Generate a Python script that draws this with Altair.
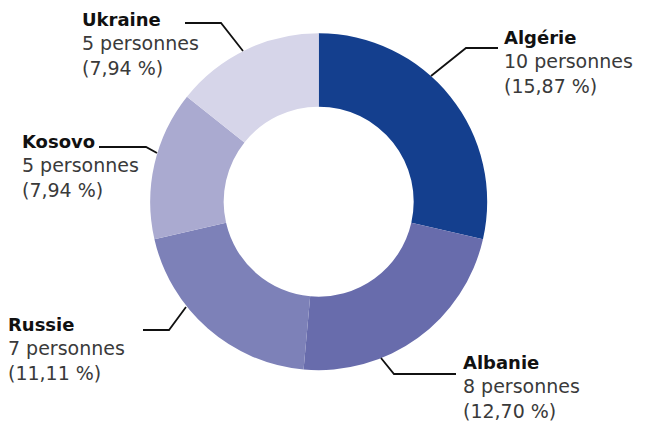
import altair as alt
import pandas as pd

# ---- data ----
countries = ["Algérie", "Albanie", "Russie", "Kosovo", "Ukraine"]
persons = [10, 8, 7, 5, 5]
percents = ["15,87", "12,70", "11,11", "7,94", "7,94"]
colors = ["#143F8E", "#686CAC", "#7D81B8", "#AAAAD0", "#D6D5E9"]

# ---- label layout (page pixels; offsets applied below) ----
label_x = [502, 461, 6, 20, 80]
label_y = [44, 369, 331, 148, 26]
line_gap = 24.5
leaders = [
    [(428, 76), (463, 48), (495, 48)],
    [(378, 358), (391, 374), (453, 374)],
    [(183, 307), (166, 330), (140, 330)],
    [(154, 153), (143, 147), (96, 147)],
    [(240, 51), (218, 23), (182, 23)],
]
OX, OY = 12, 8
TX = 13

df = pd.DataFrame({"pays": countries, "n": persons, "idx": list(range(len(countries)))})

rows = []
for i, c in enumerate(countries):
    lines = [(c, "bold"), (f"{persons[i]} personnes", "normal"), (f"({percents[i]} %)", "normal")]
    for j, (t, w) in enumerate(lines):
        rows.append({"t": t, "w": w, "x": label_x[i] - TX, "y": label_y[i] + j * line_gap - OY})
tdf = pd.DataFrame(rows)

lrows = []
for i, pts in enumerate(leaders):
    for j, (x, y) in enumerate(pts):
        lrows.append({"pays": countries[i], "o": j, "x": x - OX, "y": y - OY})
ldf = pd.DataFrame(lrows)

arc = alt.Chart(df).mark_arc(innerRadius=95, outerRadius=168.5).encode(
    theta=alt.Theta("n:Q", stack=True),
    order=alt.Order("idx:Q"),
    color=alt.Color("pays:N", scale=alt.Scale(domain=countries, range=colors), legend=None),
)

lead = alt.Chart(ldf).mark_line(color="#111111", strokeWidth=1.8).encode(
    x=alt.X("x:Q", scale=None, axis=None),
    y=alt.Y("y:Q", scale=None, axis=None),
    detail="pays:N",
    order="o:Q",
)

bold = alt.Chart(tdf[tdf.w == "bold"]).mark_text(
    align="left", baseline="alphabetic", font="DejaVu Sans", fontSize=18, fontWeight="bold", color="#111111"
).encode(x=alt.X("x:Q", scale=None), y=alt.Y("y:Q", scale=None), text="t:N")

normal = alt.Chart(tdf[tdf.w == "normal"]).mark_text(
    align="left", baseline="alphabetic", font="DejaVu Sans", fontSize=19, color="#3a3a3a"
).encode(x=alt.X("x:Q", scale=None), y=alt.Y("y:Q", scale=None), text="t:N")

chart = alt.layer(arc, lead, bold, normal).properties(
    width=607.4, height=387.4, padding=0
).configure_view(stroke=None)

chart.save("out.html", embed_options={"renderer": "svg", "actions": False})
